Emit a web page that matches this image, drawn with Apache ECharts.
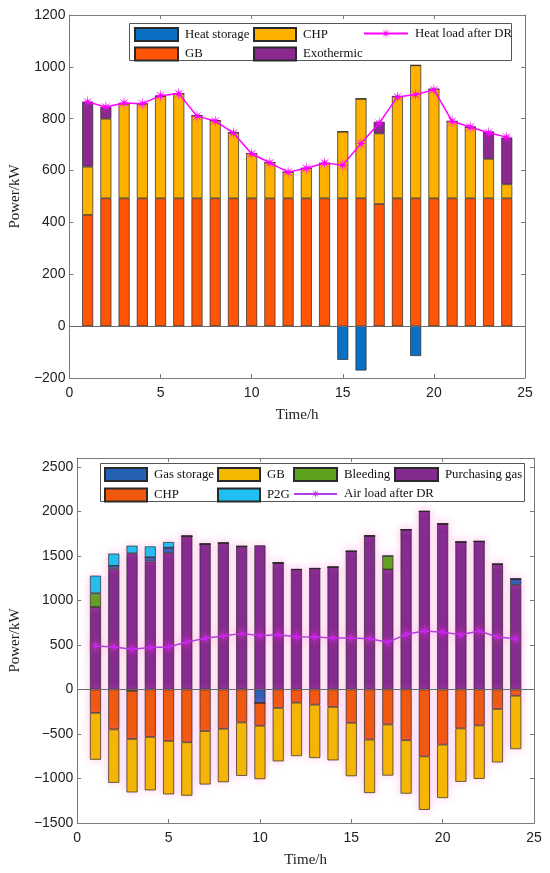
<!DOCTYPE html>
<html><head><meta charset="utf-8">
<script src="https://cdn.jsdelivr.net/npm/echarts@6/dist/echarts.min.js"></script>
<style>html,body{margin:0;padding:0;background:#fff}#c{width:550px;height:873px}</style>
</head><body><div id="c"></div>
<script>
// ---------- data ----------
const hours = [1,2,3,4,5,6,7,8,9,10,11,12,13,14,15,16,17,18,19,20,21,22,23,24];
const xTicks = [0,5,10,15,20,25];
// top chart (heat)
const heatStorage = [0,0,0,0,0,0,0,0,0,0,0,0,0,0,-130,-171,0,0,-115,0,0,0,0,0];
const gbHeat      = [429,493,493,493,493,493,493,493,493,493,493,493,493,493,493,493,471,493,493,493,493,493,493,493];
const chpHeat     = [186,307,365,365,394,404,319,300,253,173,138,101,116,135,257,384,272,393,513,421,297,275,152,54];
const exothermic  = [250,45,0,0,0,0,0,0,0,0,0,0,0,0,0,0,45,0,0,0,0,0,106,180];
const heatLoadDR  = [865,845,861,858,889,897,810,791,745,665,630,594,609,629,621,704,783,884,893,912,790,768,746,729];
const heatYTicks  = [-200,0,200,400,600,800,1000,1200];
// bottom chart (gas)
const purchasingGas = [926,1352,1530,1437,1533,1722,1633,1644,1607,1619,1422,1348,1359,1374,1552,1726,1348,1796,2000,1859,1656,1663,1407,1174];
const gasStorage    = [0,37,-15,48,60,0,0,0,0,-152,0,0,0,0,0,0,0,0,0,0,0,0,0,67];
const bleeding      = [155,0,0,0,0,0,0,0,0,0,0,0,0,0,0,0,152,0,0,0,0,0,0,0];
const p2g           = [197,137,85,122,63,0,0,0,0,0,0,0,0,0,0,0,0,0,0,0,0,0,0,0];
const chpGas        = [-263,-448,-541,-533,-578,-593,-467,-441,-370,-255,-207,-148,-170,-196,-374,-563,-393,-570,-752,-619,-437,-404,-219,-70];
const gbGas         = [-526,-600,-600,-600,-600,-600,-600,-600,-600,-600,-600,-600,-600,-600,-600,-600,-574,-600,-600,-600,-600,-600,-600,-600];
const airLoadDR     = [489,478,452,470,478,533,574,600,630,604,615,593,589,578,578,570,530,619,656,644,615,656,589,570];
const gasYTicks     = [-1500,-1000,-500,0,500,1000,1500,2000,2500];

// ---------- helpers ----------
// hidden category axis spanning 0..25 so that bars can be stacked by the library
const slots = [];
for (let t = xTicks[0]; t <= xTicks[xTicks.length-1]; t++) slots.push(String(t));
const pair = arr => hours.map((h,i)=>[String(h),arr[i]]);
function asteriskPath(){
  let d='';
  for(let k=0;k<16;k++){
    const a=k*Math.PI/8, r=(k%2===0)?10:2.4;
    const x=(10+r*Math.cos(a)).toFixed(2), y=(10+r*Math.sin(a)).toFixed(2);
    d+=(k===0?'M':'L')+x+' '+y+' ';
  }
  return 'path://'+d+'Z';
}
const AST = asteriskPath();
const minus = v => String(v).replace('-', '\u2212');
const AX = '#7a7a7a';
const serif = 'Liberation Serif';
const sans = 'Liberation Sans';

function xAx(grid, bottom){
  return {
    type:'value', gridIndex:grid, min:xTicks[0], max:xTicks[xTicks.length-1], interval:xTicks[1]-xTicks[0],
    position: bottom?'bottom':'top',
    axisLine:{show:true, onZero:false, lineStyle:{color:AX, width:1}},
    axisTick:{show:true, inside:true, length:4, lineStyle:{color:AX}},
    axisLabel:{show:bottom, color:'#222', fontFamily:sans, fontSize:14, margin:8},
    splitLine:{show:false},
    name: bottom?'Time/h':'', nameLocation:'middle', nameGap:30,
    nameTextStyle:{fontFamily:serif, fontSize:15, color:'#222'}
  };
}
function catAx(grid){
  return {type:'category', gridIndex:grid, data:slots, boundaryGap:false, show:false, position:'bottom'};
}
function yAx(grid, left, ticks, max){
  return {
    type:'value', gridIndex:grid, min:ticks[0], max:max, interval:ticks[1]-ticks[0],
    position: left?'left':'right',
    axisLine:{show:true, onZero:false, lineStyle:{color:AX, width:1}},
    axisTick:{show:true, inside:true, length:4, lineStyle:{color:AX}},
    axisLabel:{show:left, color:'#222', fontFamily:sans, fontSize:14, margin:4, showMaxLabel: max===ticks[ticks.length-1],
      formatter: v => ticks.indexOf(v)>=0 ? minus(v) : ''},
    splitLine:{show:false},
    name: left?'Power/kW':'', nameLocation:'middle', nameGap: grid===0?44:51,
    nameTextStyle:{fontFamily:serif, fontSize:15, color:'#222'}
  };
}
const zeroLine = {silent:true, symbol:'none', label:{show:false}, lineStyle:{color:'#6a6a6a', type:'solid', width:1}, data:[{yAxis:0}]};
const glow = {shadowColor:'rgba(255,110,210,0.4)', shadowBlur:8};

function bar(name, data, color, xi, yi, stack, extra){
  return {
    name, type:'bar', xAxisIndex:xi, yAxisIndex:yi, stack, stackStrategy:'samesign', data:pair(data), barWidth:11,
    itemStyle:Object.assign({color, borderColor:'#2a2a2a', borderWidth:0.7}, extra||{}),
    emphasis:{disabled:true}
  };
}

const C = {
  heatStorage:'#0a70c4', gb:'#ff5505', chp:'#ffb100', exo:'#8a2a8f',
  gasStorage:'#2461b5', chpG:'#f0590c', gbG:'#f5b800', p2g:'#1fc0f0', bleed:'#5da31c', purch:'#832a8f'
};

// axis indices: grid0 -> x 0 (value, bottom), 1 (value, top), 2 (category, hidden); grid1 -> 3,4,5
const s1 = bar('Heat storage', heatStorage, C.heatStorage, 2, 0, 'h');
s1.markLine = zeroLine;
const series = [
  s1,
  bar('GB', gbHeat, C.gb, 2, 0, 'h'),
  bar('CHP', chpHeat, C.chp, 2, 0, 'h'),
  bar('Exothermic', exothermic, C.exo, 2, 0, 'h'),
  {name:'Heat load after DR', type:'line', xAxisIndex:2, yAxisIndex:0, data:pair(heatLoadDR),
   lineStyle:{color:'#ff00ff', width:1.5}, itemStyle:{color:'#ff00ff'}, symbol:AST, symbolSize:13, z:5},
];
const g1 = bar('Purchasing gas', purchasingGas, C.purch, 5, 2, 'g', glow);
g1.markLine = zeroLine;
series.push(
  g1,
  bar('Gas storage', gasStorage, C.gasStorage, 5, 2, 'g', glow),
  bar('Bleeding', bleeding, C.bleed, 5, 2, 'g', glow),
  bar('P2G', p2g, C.p2g, 5, 2, 'g', glow),
  bar('CHP ', chpGas, C.chpG, 5, 2, 'g', glow),
  bar('GB ', gbGas, C.gbG, 5, 2, 'g', glow),
  {name:'Air load after DR', type:'line', xAxisIndex:5, yAxisIndex:2, data:pair(airLoadDR),
   lineStyle:{color:'#b040e6', width:1.5}, itemStyle:{color:'#cc22ee', shadowColor:'rgba(255,60,170,0.7)', shadowBlur:8},
   symbol:AST, symbolSize:13, z:5}
);

function leg(names, left, top, gap, iconW){
  return {
    show:true, orient:'vertical', left, top, itemGap:gap, itemWidth:iconW, itemHeight:13, padding:0, z:10,
    data:names.map(n=>({name:n, icon: (n.indexOf('after DR')>=0)? undefined : 'rect'})),
    textStyle:{fontFamily:serif, fontSize:12.8, color:'#111', padding:[0,0,0,2]},
    formatter: n => n.trim(),
    selectedMode:false
  };
}

const option = {
  animation:false,
  backgroundColor:'#fff',
  grid:[
    {left:65, right:25, top:15, bottom:495, containLabel:false},
    {left:72, right:16, top:458, bottom:50, containLabel:false}
  ],
  xAxis:[xAx(0,true), xAx(0,false), catAx(0), xAx(1,true), xAx(1,false), catAx(1)],
  yAxis:[yAx(0,true,heatYTicks,1200), yAx(0,false,heatYTicks,1200), yAx(1,true,gasYTicks,2600), yAx(1,false,gasYTicks,2600)],
  legend:[
    leg(['Heat storage','GB'], 134, 27, 4.4, 43),
    leg(['CHP','Exothermic'], 253, 27, 4.4, 42),
    leg(['Heat load after DR'], 363, 27, 4.4, 44),
    leg(['Gas storage','CHP '], 104, 467, 5.4, 42),
    leg(['GB ','P2G'], 217, 467, 5.4, 42),
    leg(['Bleeding','Air load after DR'], 293, 467, 5.4, 43),
    leg(['Purchasing gas'], 394, 467, 5.4, 43)
  ],
  graphic:[
    {type:'rect', z:3, shape:{x:129.5, y:23.5, width:382, height:37}, style:{fill:'#fff', stroke:'#555', lineWidth:1}},
    {type:'rect', z:3, shape:{x:100.5, y:463.5, width:424, height:38}, style:{fill:'#fff', stroke:'#555', lineWidth:1}}
  ],
  series
};
const chart = echarts.init(document.getElementById('c'), null, {renderer:'canvas'});
chart.setOption(option);
</script></body></html>
